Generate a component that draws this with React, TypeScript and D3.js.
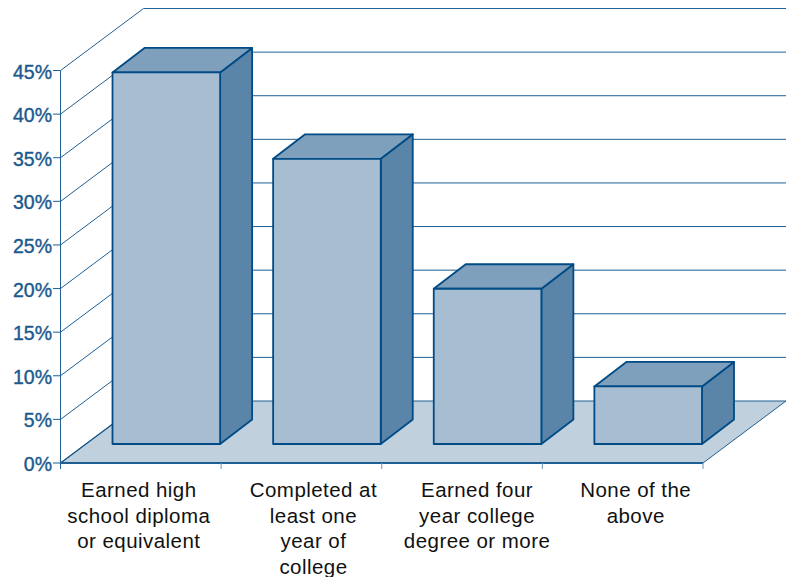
import * as d3 from 'd3'

const categories = ['Earned high', 'Completed at', 'Earned four', 'None of the']
const categoryLines = [
  ['Earned high', 'school diploma', 'or equivalent'],
  ['Completed at', 'least one', 'year of', 'college'],
  ['Earned four', 'year college', 'degree or more'],
  ['None of the', 'above'],
]
const values = [42.6, 32.7, 17.8, 6.6]
const yTicks = [0, 5, 10, 15, 20, 25, 30, 35, 40, 45]

const BLUE = '#004b85'
const LINE = '#1f5f93'
const TEXT_BLUE = '#1a5a8e'

// wall depth and bar depth in the oblique projection
const depth = { x: 83, y: -62 }
const barDepth = { x: 32, y: -24.5 }
const inset = { x: 25.5, y: -19 }

// the labels are not centred under the bars in the original
const labelNudge = [-2, 12, 15, 13]

export default function App() {
  const x = d3.scaleBand<string>().domain(categories).range([60.5, 703]).paddingInner(0.33).paddingOuter(0.165)
  const y = d3.scaleLinear().domain([0, 45]).range([463, 70.5])
  const ticksX = [...categories.map(c => x(c)! - x.step() * 0.165), 703]

  const pts = (p: number[][]) => p.map(d => d.join(',')).join(' ')

  return (
    <svg
      width={791}
      height={577}
      style={{ position: 'absolute', left: 0, top: 0, background: '#fff' }}
      fontFamily="'Liberation Sans', Arial, sans-serif"
    >
      {/* floor */}
      <polygon
        points={pts([
          [60.5, y(0)],
          [703, y(0)],
          [703 + depth.x, y(0) + depth.y],
          [60.5 + depth.x, y(0) + depth.y],
        ])}
        fill="#c0d1dd"
      />

      {/* wall grid */}
      {yTicks.map(t => (
        <g key={t} fill="none" stroke={LINE} strokeWidth={1}>
          {t > 0 && <line x1={60.5} y1={y(t)} x2={60.5 + depth.x} y2={y(t) + depth.y} />}
          <line x1={60.5 + depth.x} y1={y(t) + depth.y} x2={703 + depth.x} y2={y(t) + depth.y} />
          <line x1={53} y1={y(t)} x2={60.5} y2={y(t)} />
        </g>
      ))}
      <line x1={60.5} y1={y(0)} x2={60.5 + depth.x} y2={y(0) + depth.y} stroke={BLUE} strokeWidth={1.2} />
      <line x1={703} y1={y(0)} x2={703 + depth.x} y2={y(0) + depth.y} stroke={LINE} strokeWidth={1} />

      {/* axes */}
      <line x1={60.5} y1={y(45)} x2={60.5} y2={y(0) + 6} stroke={LINE} strokeWidth={1} />
      <line x1={60.5} y1={y(0)} x2={703} y2={y(0)} stroke={LINE} strokeWidth={2} />
      {ticksX.map((t, i) => (
        <line key={i} x1={t} y1={y(0)} x2={t} y2={y(0) + 6} stroke={i === 0 ? LINE : '#6f95b5'} strokeWidth={1} />
      ))}

      {/* bars */}
      {categories.map((c, i) => {
        const x0 = x(c)! + inset.x
        const x1 = x0 + x.bandwidth()
        const yb = y(0) + inset.y
        const yt = y(values[i]) + inset.y
        return (
          <g key={c} stroke={BLUE} strokeWidth={1.8} strokeLinejoin="round">
            <polygon
              points={pts([[x1, yt], [x1 + barDepth.x, yt + barDepth.y], [x1 + barDepth.x, yb + barDepth.y], [x1, yb]])}
              fill="#5a85a9"
            />
            <polygon
              points={pts([[x0, yt], [x0 + barDepth.x, yt + barDepth.y], [x1 + barDepth.x, yt + barDepth.y], [x1, yt]])}
              fill="#7fa0bc"
            />
            <rect x={x0} y={yt} width={x1 - x0} height={yb - yt} fill="#a6bdd2" />
          </g>
        )
      })}

      {/* y labels */}
      {yTicks.map(t => (
        <text
          key={t}
          x={52}
          y={y(t) + 8}
          textAnchor="end"
          fontSize={19.5}
          fill={TEXT_BLUE}
          stroke={TEXT_BLUE}
          strokeWidth={0.4}
        >
          {t}%
        </text>
      ))}

      {/* category labels */}
      {categoryLines.map((lines, i) => (
        <text key={i} textAnchor="middle" fontSize={20.5} letterSpacing={0.45} fill="#111">
          {lines.map((l, j) => (
            <tspan
              key={j}
              x={x(categories[i])! + x.bandwidth() / 2 + labelNudge[i]}
              y={497 + j * 25.5}
            >
              {l}
            </tspan>
          ))}
        </text>
      ))}
    </svg>
  )
}
